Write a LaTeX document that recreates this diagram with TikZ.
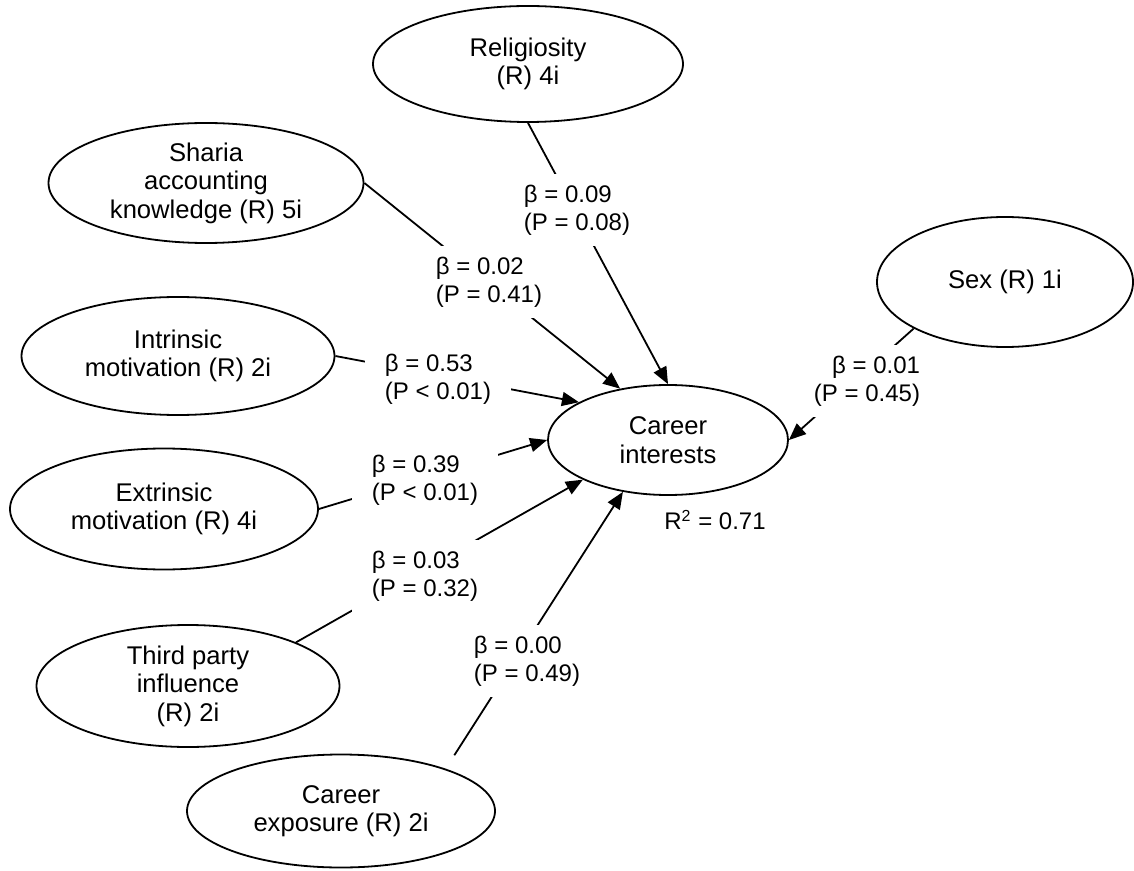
\documentclass[tikz,border=0pt]{standalone}
\usepackage{fontspec}
\setmainfont{Liberation Sans}
\usetikzlibrary{arrows.meta,shapes.geometric}

\begin{document}
\begin{tikzpicture}[x=0.5pt, y=-0.5pt, font=\fontsize{12}{13.8}\selectfont,
  latent/.style={ellipse, draw, line width=0.9pt, inner sep=0pt, align=center, font=\fontsize{12.8}{14.2}\selectfont},
  effect/.style={-{Triangle[length=8.5pt,width=7pt]}, line width=0.9pt},
  coef/.style={fill=white, inner xsep=10pt, inner ysep=5.5pt, align=left}]
\useasboundingbox (0,0) rectangle (1134,871);
\node[latent, minimum width=155pt, minimum height=58pt] (rel) at (528,64) {Religiosity\\(R) 4i};
\node[latent, minimum width=157.5pt, minimum height=60pt] (sharia) at (206,183) {Sharia\\accounting\\knowledge (R) 5i};
\node[latent, minimum width=156.5pt, minimum height=59pt] (intr) at (178,356) {Intrinsic\\motivation (R) 2i};
\node[latent, minimum width=154pt, minimum height=60.5pt] (extr) at (164,509) {Extrinsic\\motivation (R) 4i};
\node[latent, minimum width=151.5pt, minimum height=61pt] (third) at (188,686) {Third party\\influence\\(R) 2i};
\node[latent, minimum width=154pt, minimum height=56.5pt] (expo) at (341,811) {Career\\exposure (R) 2i};
\node[latent, minimum width=128pt, minimum height=65pt] (sex) at (1005,282) {Sex (R) 1i};
\node[latent, minimum width=120pt, minimum height=55pt] (career) at (668,440) {Career\\interests};
\draw[effect] (rel.south) -- (career.north);
\draw[effect] (sharia.east) -- (career.133);
\draw[effect] (intr.east) -- (career.157);
\draw[effect] (extr.east) -- (career.west);
\draw[effect] (third.22) -- (career.205);
\draw[effect, shorten <=8pt] (expo.22) -- (career.229);
\draw[effect] (sex.207) -- (career.east);
\node[coef] (b-rel) at (577,210) {β = 0.09\\(P = 0.08)};
\node[coef] (b-sharia) at (489,282) {β = 0.02\\(P = 0.41)};
\node[coef] (b-intr) at (438,379) {β = 0.53\\(P < 0.01)};
\node[coef] (b-extr) at (425,480) {β = 0.39\\(P < 0.01)};
\node[coef] (b-third) at (425,576) {β = 0.03\\(P = 0.32)};
\node[coef] (b-expo) at (527,661) {β = 0.00\\(P = 0.49)};
\node[coef, align=right] (b-sex) at (867,381) {β = 0.01\\(P = 0.45)};
\node (r2) at (715,520) {R\textsuperscript{2} = 0.71};
\end{tikzpicture}
\end{document}
